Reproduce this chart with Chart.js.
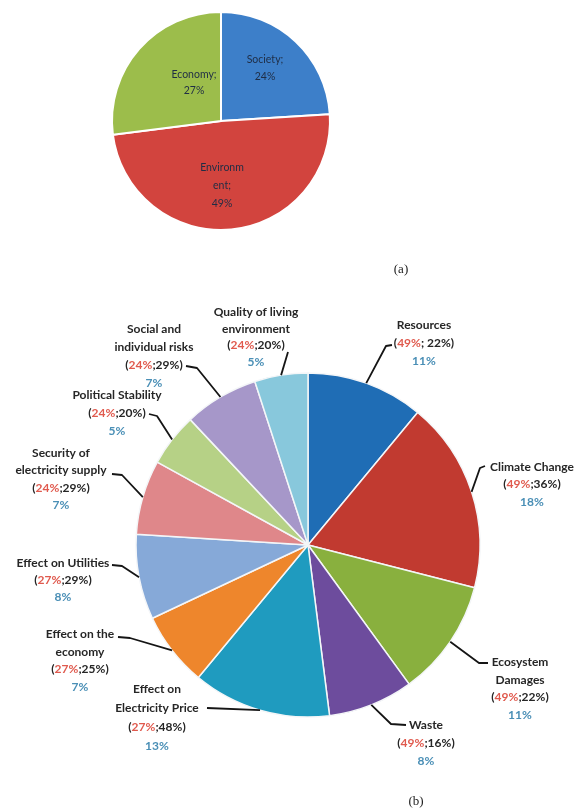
<!DOCTYPE html>
<html>
<head>
<meta charset="utf-8">
<script src="https://cdn.jsdelivr.net/npm/chart.js@4.4.0/dist/chart.umd.min.js"></script>
<style>
  html, body { margin: 0; padding: 0; background: #ffffff; width: 575px; height: 810px; overflow: hidden; }
  .layer { position: absolute; left: 0; top: 0; width: 575px; height: 810px; }
</style>
</head>
<body>
<div class="layer"><canvas id="pieA"></canvas></div>
<div class="layer"><canvas id="pieB"></canvas></div>
<script>
// (a) shares of the three sustainability pillars
const pillarLabels = [['Society;'], ['Environm', 'ent;'], ['Economy;']];
const pillarShares = [24, 49, 27];
const pillarColors = ['#3d7fc9', '#d2443e', '#9cbd4b'];

// (b) indicator shares, clockwise from the top
const indicatorLabels = [
  ['Resources'],
  ['Climate Change'],
  ['Ecosystem', 'Damages'],
  ['Waste'],
  ['Effect on', 'Electricity Price'],
  ['Effect on the', 'economy'],
  ['Effect on Utilities'],
  ['Security of', 'electricity supply'],
  ['Political Stability'],
  ['Social and', 'individual risks'],
  ['Quality of living', 'environment']
];
const indicatorShares = [11, 18, 11, 8, 13, 7, 8, 7, 5, 7, 5];
// pillar weight and weight inside the pillar, shown as "(pillar;within)"
const pillarWeight = [49, 49, 49, 49, 27, 27, 27, 24, 24, 24, 24];
const withinPillar = [22, 36, 22, 16, 48, 25, 29, 29, 20, 29, 20];
const indicatorColors = ['#1f6db5', '#c13a30', '#89b03e', '#6d4c9d', '#1f9bbf', '#ee862c',
                         '#86a9d8', '#df878a', '#b6d186', '#a697c9', '#88c8dc'];

// label placement for pie (a): text centre and line gap
const insideLayout = [
  { x: 265, y: 60, gap: 17 },
  { x: 222, y: 168, gap: 18 },
  { x: 194, y: 75, gap: 16 }
];

// callout placement for pie (b): text centre x, first line y, line gap,
// start point and elbow point of the leader line
const calloutLayout = [
  { x: 424, y: 325, gap: 18,   sx: 392, sy: 345, ex: 386, ey: 346 },
  { x: 532, y: 467, gap: 17.5, sx: 485, sy: 466, ex: 480, ey: 468 },
  { x: 520, y: 662, gap: 17.7, sx: 488, sy: 663, ex: 479, ey: 663 },
  { x: 426, y: 725, gap: 18,   sx: 406, sy: 725, ex: 391, ey: 724 },
  { x: 157, y: 689, gap: 19,   sx: 207, sy: 708, ex: 207, ey: 708 },
  { x: 80,  y: 634, gap: 17.7, sx: 118, sy: 637, ex: 130, ey: 638 },
  { x: 63,  y: 563, gap: 17,   sx: 112, sy: 565, ex: 122, ey: 566 },
  { x: 61,  y: 453, gap: 17.5, sx: 112, sy: 474, ex: 122, ey: 475 },
  { x: 117, y: 395, gap: 18,   sx: 149, sy: 414, ex: 157, ey: 416 },
  { x: 154, y: 329, gap: 18,   sx: 186, sy: 366, ex: 197, ey: 368 },
  { x: 256, y: 312, gap: 16.7, sx: 288, sy: 352, ex: 288, ey: 352 }
];

const TEXT_DARK = '#262626';
const TEXT_PILLAR = '#e05a4e';
const TEXT_SHARE = '#4a8fb6';
const LABEL_FONT = 'bold 12px Lato, "Open Sans", sans-serif';

const insideLabels = {
  id: 'insideLabels',
  afterDatasetsDraw(chart) {
    const ctx = chart.ctx;
    ctx.save();
    ctx.font = '10.5px Lato, "Open Sans", sans-serif';
    ctx.fillStyle = '#1f2d45';
    ctx.textAlign = 'center';
    ctx.textBaseline = 'middle';
    pillarLabels.forEach((lines, i) => {
      const L = insideLayout[i];
      const all = lines.concat([pillarShares[i] + '%']);
      all.forEach((t, k) => ctx.fillText(t, L.x, L.y + k * L.gap));
    });
    ctx.font = '13px "Liberation Serif", serif';
    ctx.fillStyle = '#222';
    ctx.fillText('(a)', 401, 270);
    ctx.restore();
  }
};

const callouts = {
  id: 'callouts',
  afterDatasetsDraw(chart) {
    const ctx = chart.ctx;
    const arcs = chart.getDatasetMeta(0).data;
    ctx.save();
    ctx.textBaseline = 'middle';
    ctx.font = LABEL_FONT;
    indicatorLabels.forEach((lines, i) => {
      const L = calloutLayout[i];
      const arc = arcs[i];
      const mid = (arc.startAngle + arc.endAngle) / 2;
      const ax = arc.x + Math.cos(mid) * arc.outerRadius;
      const ay = arc.y + Math.sin(mid) * arc.outerRadius;

      // leader line
      ctx.strokeStyle = '#151515';
      ctx.lineWidth = 1.8;
      ctx.lineJoin = 'round';
      ctx.beginPath();
      ctx.moveTo(L.sx, L.sy);
      ctx.lineTo(L.ex, L.ey);
      ctx.lineTo(ax, ay);
      ctx.stroke();

      // name lines
      ctx.textAlign = 'center';
      ctx.fillStyle = TEXT_DARK;
      lines.forEach((t, k) => ctx.fillText(t, L.x, L.y + k * L.gap));

      // "(pillar;within)" line with the pillar weight in red
      const y1 = L.y + lines.length * L.gap;
      const sep = i === 0 ? '; ' : ';';
      const parts = [
        ['(', TEXT_DARK],
        [pillarWeight[i] + '%', TEXT_PILLAR],
        [sep + withinPillar[i] + '%)', TEXT_DARK]
      ];
      const total = parts.reduce((s, p) => s + ctx.measureText(p[0]).width, 0);
      let x = L.x - total / 2;
      ctx.textAlign = 'left';
      parts.forEach(p => {
        ctx.fillStyle = p[1];
        ctx.fillText(p[0], x, y1);
        x += ctx.measureText(p[0]).width;
      });

      // share of the slice
      ctx.textAlign = 'center';
      ctx.fillStyle = TEXT_SHARE;
      ctx.fillText(indicatorShares[i] + '%', L.x, y1 + L.gap);
    });
    ctx.font = '13px "Liberation Serif", serif';
    ctx.fillStyle = '#222';
    ctx.textAlign = 'center';
    ctx.fillText('(b)', 416, 802);
    ctx.restore();
  }
};

const baseOptions = {
  responsive: true,
  maintainAspectRatio: false,
  animation: false,
  events: [],
  plugins: { legend: { display: false }, tooltip: { enabled: false } }
};

new Chart(document.getElementById('pieA'), {
  type: 'pie',
  data: {
    labels: pillarLabels.map(l => l.join('')),
    datasets: [{ data: pillarShares, backgroundColor: pillarColors, borderColor: '#ffffff', borderWidth: 2 }]
  },
  options: Object.assign({}, baseOptions, {
    radius: 109,
    layout: { padding: { left: 0, right: 133, top: 0, bottom: 568 } }
  }),
  plugins: [insideLabels]
});

new Chart(document.getElementById('pieB'), {
  type: 'pie',
  data: {
    labels: indicatorLabels.map(l => l.join(' ')),
    datasets: [{ data: indicatorShares, backgroundColor: indicatorColors, borderColor: '#f4f6f8', borderWidth: 1.5 }]
  },
  options: Object.assign({}, baseOptions, {
    radius: 172,
    layout: { padding: { left: 41, right: 0, top: 280, bottom: 0 } }
  }),
  plugins: [callouts]
});
</script>
</body>
</html>
